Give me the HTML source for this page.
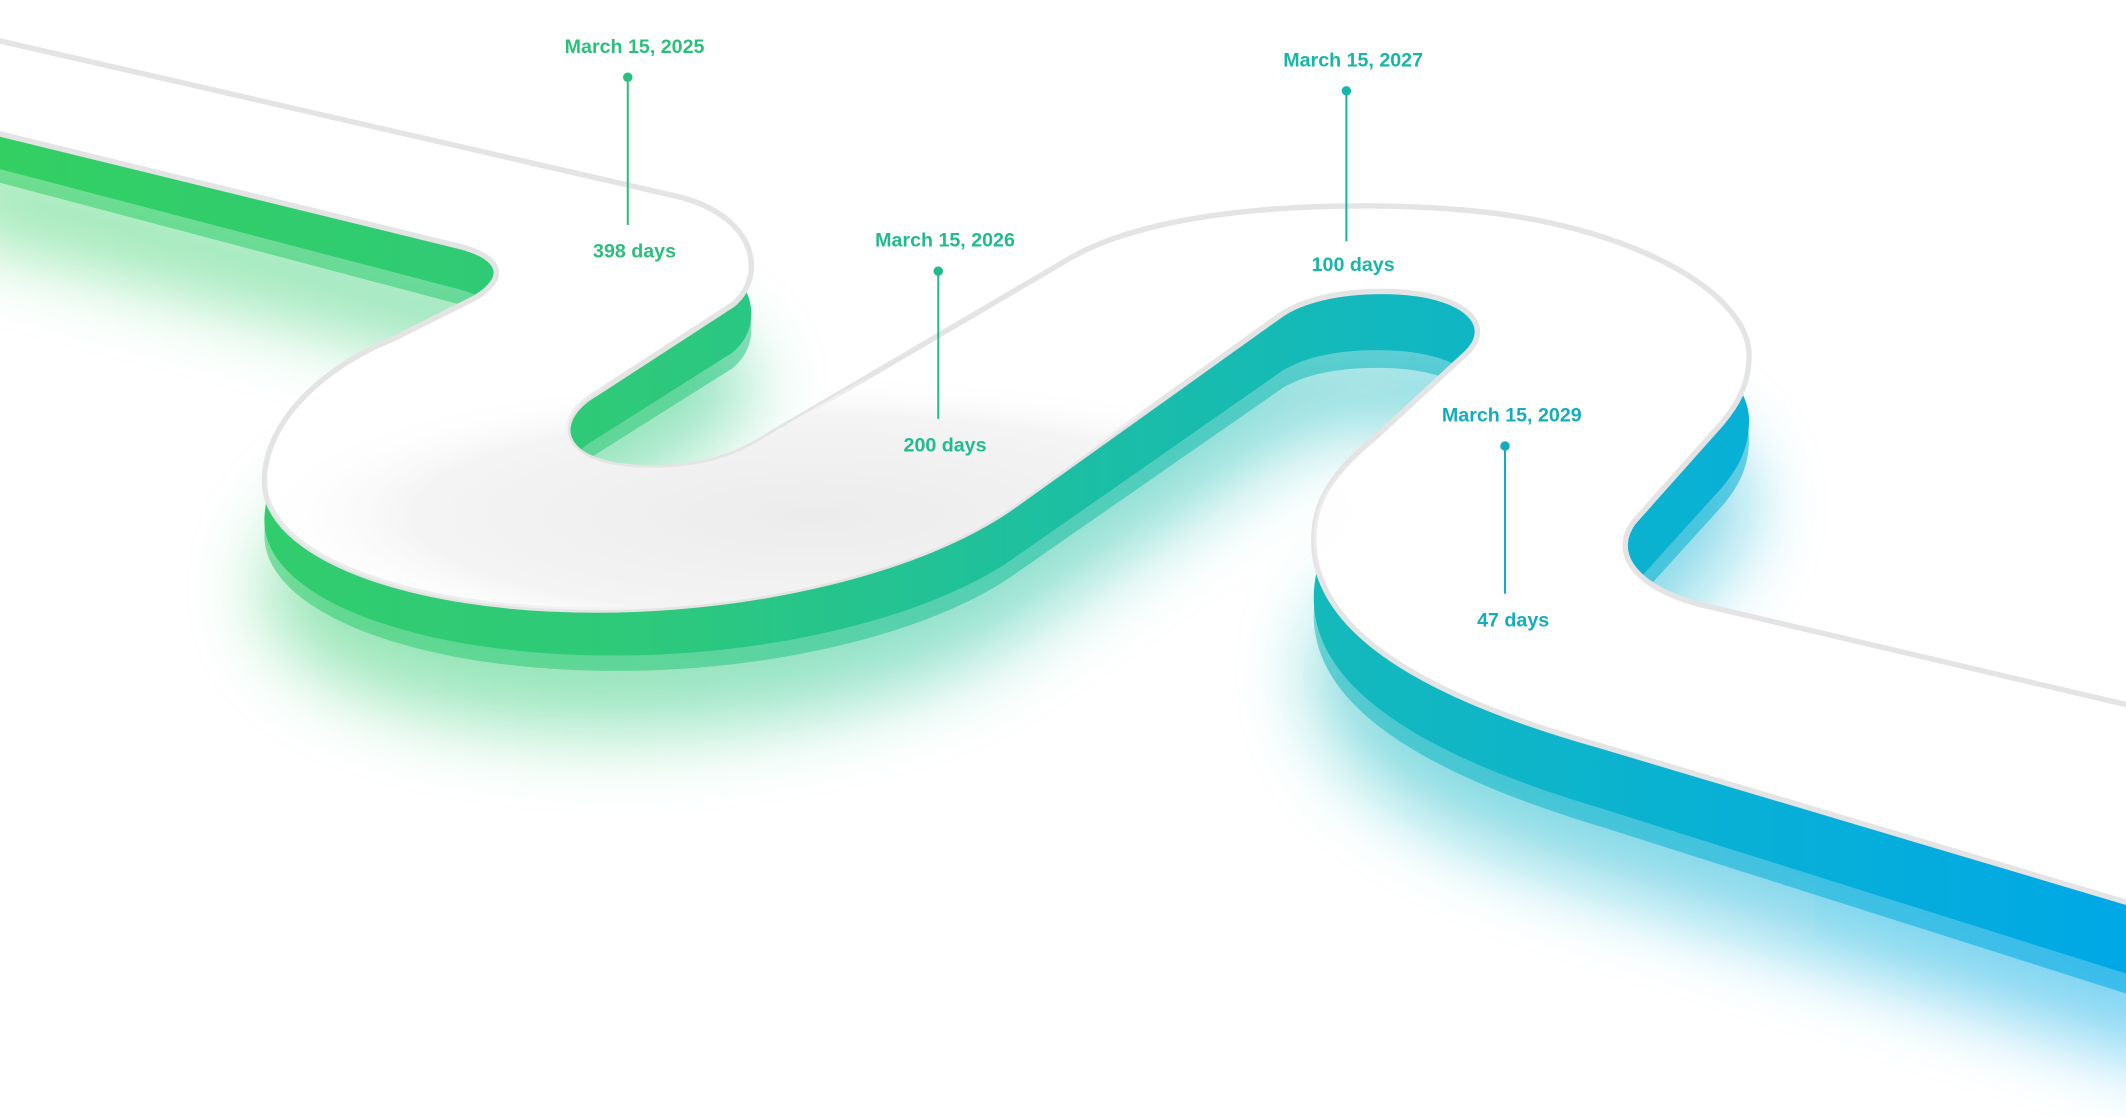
<!DOCTYPE html>
<html><head><meta charset="utf-8"><style>
html,body{margin:0;padding:0;background:#fff;overflow:hidden;}
svg{display:block;}
text{font-family:"Liberation Sans",sans-serif;font-weight:bold;font-size:14.5px;text-anchor:middle;}
</style></head><body>
<svg width="2126" height="1117" viewBox="0 0 1568 824" preserveAspectRatio="none" xmlns="http://www.w3.org/2000/svg">
<defs>
<linearGradient id="g" x1="0" y1="0" x2="1568" y2="0" gradientUnits="userSpaceOnUse">
<stop offset="0" stop-color="#33cf63"/>
<stop offset="0.3" stop-color="#2ec97a"/>
<stop offset="0.5" stop-color="#1cbfa2"/>
<stop offset="0.65" stop-color="#12b8bf"/>
<stop offset="0.82" stop-color="#08b0d6"/>
<stop offset="1" stop-color="#00a8e6"/>
</linearGradient>
<radialGradient id="sh" cx="600" cy="380" r="420" gradientUnits="userSpaceOnUse" gradientTransform="translate(600 380) scale(1 0.25) translate(-600 -380)">
<stop offset="0" stop-color="#ececec"/>
<stop offset="0.7" stop-color="#f4f4f4"/>
<stop offset="1" stop-color="#fff" stop-opacity="0"/>
</radialGradient>
<filter id="bl" x="-20%" y="-20%" width="140%" height="140%"><feGaussianBlur stdDeviation="28"/></filter>
<path id="road" d="M-40,21 L500,145 C560,160 565,205 540,225 L440,290 C405,310 410,345 480,345 C520,345 545,335 565,322 L790,190 C860,150 1000,148 1080,155 C1200,165 1290,215 1290,262 C1290,285 1280,300 1270,312 L1205,385 C1190,405 1200,430 1250,445 L1620,532 L1620,681 L1180,550 C1020,505 960,450 970,385 C975,355 1000,335 1015,322 L1080,262 C1105,240 1080,215 1020,215 C985,215 960,222 945,232 L745,375 C680,420 560,450 440,450 C300,450 195,410 195,355 C195,310 240,270 290,250 L350,220 C375,205 370,190 340,182 L-40,89 Z"/>
<clipPath id="rc"><use href="#road"/></clipPath>
</defs>
<use href="#road" fill="url(#g)" opacity="0.5" filter="url(#bl)" transform="matrix(1,0.02,0,1,0,80)"/>
<use href="#road" fill="url(#g)" opacity="0.55" transform="matrix(1,0.02,0,1,0,36)"/>
<use href="#road" fill="url(#g)" transform="matrix(1,0.017,0,1,0,26)"/>
<use href="#road" fill="#fff" stroke="#e4e4e4" stroke-width="4" stroke-linejoin="round"/>
<rect x="0" y="250" width="1568" height="260" fill="url(#sh)" clip-path="url(#rc)"/>
<g fill="#2bbf7a" stroke="#2bbf7a" stroke-width="1.5">
<circle cx="463" cy="57" r="3.5" stroke="none"/><line x1="463" y1="57" x2="463" y2="166"/>
</g>
<text x="468" y="39" fill="#2bbf7a">March 15, 2025</text>
<text x="468" y="190" fill="#2bbf7a">398 days</text>
<g fill="#21bb90" stroke="#21bb90" stroke-width="1.5">
<circle cx="692" cy="200" r="3.5" stroke="none"/><line x1="692" y1="200" x2="692" y2="309"/>
</g>
<text x="697" y="182" fill="#21bb90">March 15, 2026</text>
<text x="697" y="333" fill="#21bb90">200 days</text>
<g fill="#17b6a6" stroke="#17b6a6" stroke-width="1.5">
<circle cx="993" cy="67" r="3.5" stroke="none"/><line x1="993" y1="67" x2="993" y2="178"/>
</g>
<text x="998" y="49" fill="#17b6a6">March 15, 2027</text>
<text x="998" y="200" fill="#17b6a6">100 days</text>
<g fill="#14adc0" stroke="#14adc0" stroke-width="1.5">
<circle cx="1110" cy="329" r="3.5" stroke="none"/><line x1="1110" y1="329" x2="1110" y2="438"/>
</g>
<text x="1115" y="311" fill="#14adc0">March 15, 2029</text>
<text x="1116" y="462" fill="#14adc0">47 days</text>
</svg>
</body></html>
